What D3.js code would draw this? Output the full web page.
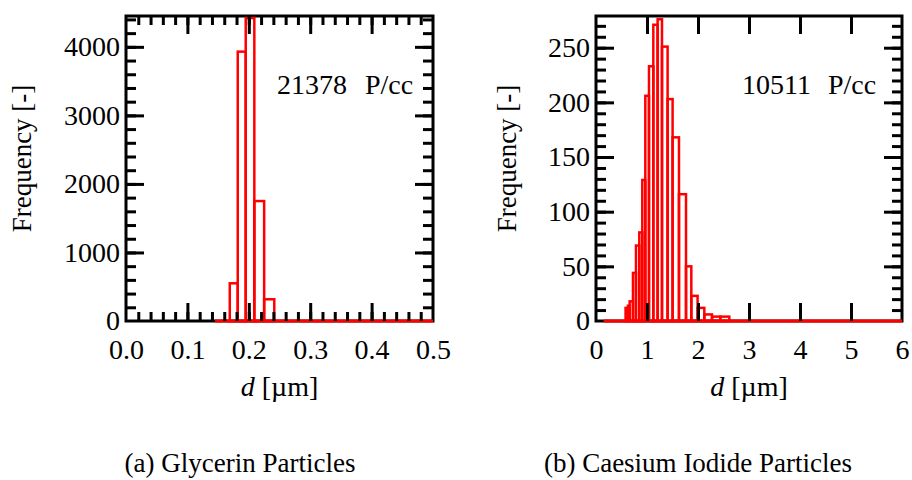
<!DOCTYPE html>
<html>
<head>
<meta charset="utf-8">
<script src="https://cdn.jsdelivr.net/npm/d3@7"></script>
<style>
  html, body { margin: 0; padding: 0; background: #fff; }
</style>
</head>
<body>
<svg id="chart" width="912" height="480"></svg>
<script>
// (a) Glycerin: size-bin edges [µm] and counts per bin
const glyEdges = [0.169, 0.182, 0.195, 0.209, 0.225, 0.2415];
const glyCounts = [550, 3930, 4420, 1750, 317];
const glyRange = [0.145, 0.5];           // measured size range (zero line)
const glyTotal = "21378";
const glyXTicks = [0.0, 0.1, 0.2, 0.3, 0.4, 0.5];
const glyYTicks = [0, 1000, 2000, 3000, 4000];

// (b) Caesium iodide: size-bin edges [µm] and counts per bin
const csiEdges = [0.58, 0.625, 0.66, 0.725, 0.784, 0.849, 0.908, 0.967, 1.039, 1.124, 1.208,
                  1.294, 1.404, 1.502, 1.627, 1.765, 1.869, 1.992, 2.124, 2.275, 2.437, 2.614];
const csiCounts = [12, 14, 18, 44, 69, 81, 129, 206, 233, 271, 276,
                   251, 203, 168, 116, 50, 23, 12, 6, 4, 4];
const csiRange = [0.15, 6];
const csiTotal = "10511";
const csiXTicks = [0, 1, 2, 3, 4, 5, 6];
const csiYTicks = [0, 50, 100, 150, 200, 250];

const FONT = '"Liberation Serif"';
const svg = d3.select("#chart");
const RED = "#ff0000";

function panel(opt) {
  const {left, top, width, height, xDomain, yDomain, edges, counts, range,
         xTicks, yTicks, xMinorStep, yMinorStep, xFmt, total, totalX, unitX,
         yTitleX, caption, captionX} = opt;
  const g = svg.append("g");
  const x = d3.scaleLinear().domain(xDomain).range([left, left + width]);
  const y = d3.scaleLinear().domain(yDomain).range([top + height, top]);

  // frame
  g.append("rect")
    .attr("x", left).attr("y", top).attr("width", width).attr("height", height)
    .attr("fill", "none").attr("stroke", "#000").attr("stroke-width", 3);

  // histogram bins
  const bins = counts.map((c, i) => ({x0: edges[i], x1: edges[i + 1], c}));
  g.append("g").selectAll("rect").data(bins).join("rect")
    .attr("x", d => x(d.x0)).attr("width", d => x(d.x1) - x(d.x0))
    .attr("y", d => y(d.c)).attr("height", d => y(0) - y(d.c))
    .attr("fill", "none").attr("stroke", RED).attr("stroke-width", 2.5);

  // zero line over the measured range
  g.append("line")
    .attr("x1", x(range[0])).attr("x2", x(range[1]))
    .attr("y1", y(0)).attr("y2", y(0))
    .attr("stroke", RED).attr("stroke-width", 3);

  const major = 18, minor = 9;
  const xMinor = xMinorStep ? d3.range(xDomain[0], xDomain[1] + 1e-9, xMinorStep) : [];
  const yMinor = d3.range(yDomain[0], yDomain[1], yMinorStep);

  function drawAxis(axisGen, translate, vals, size, fmt, pad, ends) {
    const ax = g.append("g").attr("transform", translate)
      .call(axisGen.tickValues(vals).tickSize(-size).tickPadding(pad || 3)
        .tickFormat(fmt || (() => "")));
    ax.select(".domain").remove();
    ax.selectAll("line").attr("stroke", "#000").attr("stroke-width", 3);
    // tick marks lying on the frame corners are not drawn
    ax.selectAll(".tick").filter(d => ends.some(e => Math.abs(d - e) < 1e-9))
      .select("line").remove();
    ax.selectAll("text").style("font-family", FONT).attr("font-size", 28).attr("fill", "#000");
    return ax;
  }
  // bottom / top
  drawAxis(d3.axisBottom(x), `translate(0,${top + height})`, xMinor, minor, null, 3, xDomain);
  drawAxis(d3.axisBottom(x), `translate(0,${top + height})`, xTicks, major, xFmt, 18, xDomain);
  drawAxis(d3.axisTop(x), `translate(0,${top})`, xMinor, minor, null, 3, xDomain);
  drawAxis(d3.axisTop(x), `translate(0,${top})`, xTicks, major, null, 3, xDomain);
  // left / right
  drawAxis(d3.axisLeft(y), `translate(${left},0)`, yMinor, minor + 1, null, 3, yDomain);
  drawAxis(d3.axisLeft(y), `translate(${left},0)`, yTicks, major, d => d, 6, yDomain);
  drawAxis(d3.axisRight(y), `translate(${left + width},0)`, yMinor, minor + 1, null, 3, yDomain);
  drawAxis(d3.axisRight(y), `translate(${left + width},0)`, yTicks, major, null, 3, yDomain);

  // concentration annotation
  const t = g.append("text").attr("x", totalX).attr("y", 94)
    .style("font-family", FONT).attr("font-size", 28).attr("fill", "#000");
  t.append("tspan").text(total);
  t.append("tspan").attr("x", unitX).text("P/cc");

  // axis titles
  const xt = g.append("text").attr("x", left + width / 2).attr("y", 396)
    .style("font-family", FONT)
    .attr("text-anchor", "middle").attr("font-size", 28).attr("fill", "#000");
  xt.append("tspan").attr("font-style", "italic").text("d");
  xt.append("tspan").text(" [µm]");

  g.append("text")
    .attr("transform", `translate(${yTitleX},${top + height / 2 - 10}) rotate(-90)`)
    .style("font-family", FONT)
    .attr("text-anchor", "middle").attr("font-size", 27).attr("fill", "#000")
    .text("Frequency [-]");

  // caption
  g.append("text").attr("x", captionX).attr("y", 472)
    .style("font-family", FONT)
    .attr("text-anchor", "middle").attr("font-size", 27).attr("fill", "#000")
    .text(caption);
}

panel({
  left: 126, top: 16, width: 307, height: 305,
  xDomain: [0, 0.5], yDomain: [0, 4450],
  edges: glyEdges, counts: glyCounts, range: glyRange,
  xTicks: glyXTicks, yTicks: glyYTicks, xMinorStep: 0.02, yMinorStep: 200,
  xFmt: d3.format(".1f"), total: glyTotal, totalX: 277, unitX: 365,
  yTitleX: 31, caption: "(a) Glycerin Particles", captionX: 240
});

panel({
  left: 596, top: 16, width: 306, height: 305,
  xDomain: [0, 6], yDomain: [0, 279],
  edges: csiEdges, counts: csiCounts, range: csiRange,
  xTicks: csiXTicks, yTicks: csiYTicks, xMinorStep: null, yMinorStep: 10,
  xFmt: d3.format("d"), total: csiTotal, totalX: 742, unitX: 828,
  yTitleX: 516, caption: "(b) Caesium Iodide Particles", captionX: 698
});
</script>
</body>
</html>
